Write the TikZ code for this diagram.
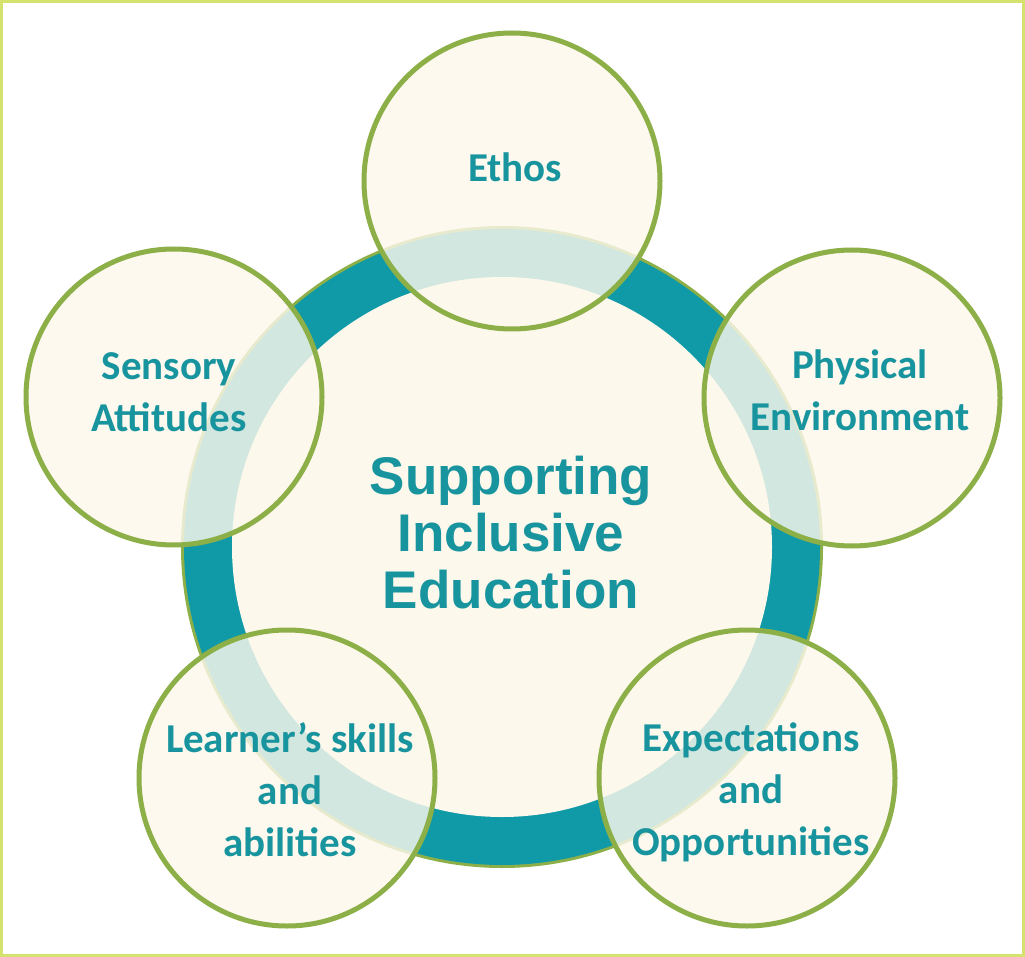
\documentclass[tikz,border=0pt]{standalone}
\usepackage{fontspec}
\setmainfont{Carlito}
\newfontfamily\arialfont{Liberation Sans}
\definecolor{ringteal}{RGB}{16,154,168}
\definecolor{txtteal}{RGB}{24,148,158}
\definecolor{olive}{RGB}{141,175,72}
\definecolor{cream}{RGB}{253,248,236}
\definecolor{frame}{RGB}{214,226,110}
\tikzset{
  small/.style={circle, minimum size=296pt, inner sep=0pt, draw=olive, line width=5pt, fill=cream, fill opacity=0.82},
  lbl/.style={text=txtteal, align=center, font=\fontsize{41}{52}\selectfont\bfseries},
  central/.style={text=txtteal, align=center, font=\arialfont\fontsize{53}{57}\selectfont\bfseries}
}
\begin{document}
\begin{tikzpicture}[x=1pt,y=-1pt]
\useasboundingbox (0,0) rectangle (1025,957);
\fill[white] (0,0) rectangle (1025,957);
\draw[frame, line width=3pt] (1.5,1.5) rectangle (1023.5,955.5);
% ring
\coordinate (c) at (502,547);
\fill[olive] (c) circle (321);
\fill[ringteal] (c) circle (318);
\fill[cream] (c) circle (270);
% small circles
\node[small] (ethos) at (512,181) {};
\node[small] (phys) at (852,398) {};
\node[small] (sens) at (174,397) {};
\node[small] (learn) at (287,778) {};
\node[small] (expt) at (747,778) {};
% texts
\node[lbl] (tethos) at (515,167) {Ethos};
\node[lbl] (tphys) at (860,390) {Physical\\Environment};
\node[lbl] (tsens) at (169,392) {Sensory\\Attitudes};
\node[lbl] (tlearn) at (290,790) {Learner’s skills\\and\\abilities};
\node[lbl] (texpt) at (751,792) {Expectations\\and\\Opportunities};
\node[central] (tc) at (511,533) {Supporting\\Inclusive\\Education};
\end{tikzpicture}
\end{document}
